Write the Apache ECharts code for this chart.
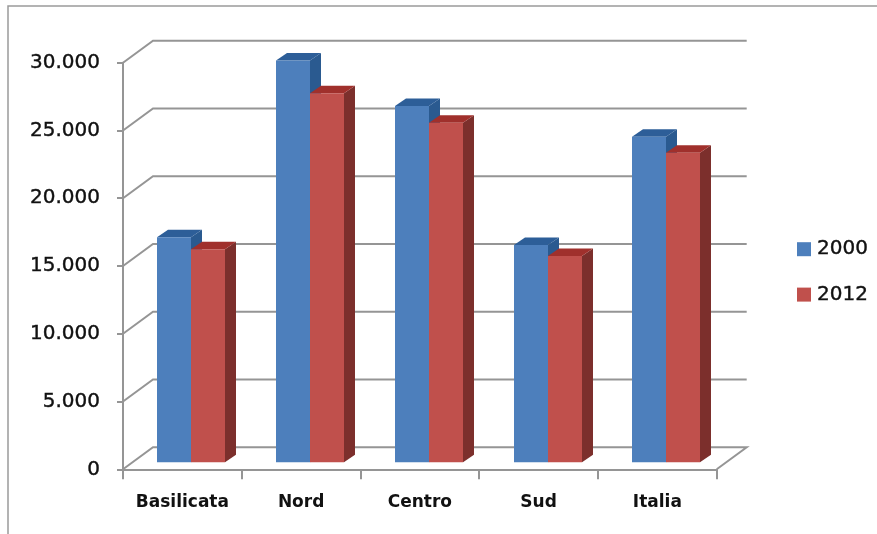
<!DOCTYPE html>
<html>
<head>
<meta charset="utf-8">
<style>html,body{margin:0;padding:0;background:#fff}#chart{width:877px;height:534px}</style>
<script src="https://cdn.jsdelivr.net/npm/echarts@6/dist/echarts.min.js"></script>
</head>
<body>
<div id="chart"></div>
<script>
const categories = ['Basilicata', 'Nord', 'Centro', 'Sud', 'Italia'];
const values2000 = [16600, 29640, 26290, 16030, 24020];
const values2012 = [15715, 27230, 25055, 15220, 22840];
const yTicks = [0, 5000, 10000, 15000, 20000, 25000, 30000];

const AXIS_GREY = '#959595';
const FONT = '"DejaVu Sans", sans-serif';

// Oblique projection used for the floor/wall and for the bar prisms
const WALL = { dx: 30, dy: -22 };
const BAR_PLANE = { dx: 9, dy: -7 };
const BAR_DEPTH = { dx: 11, dy: -7.5 };
const BAR_SHARE = 0.285;

const withDots = v => String(v).replace(/\B(?=(\d{3})+$)/g, '.');

function renderWall(params, api) {
  const box = params.coordSys;
  const y = api.coord([0, api.value(0)])[1];
  const x0 = box.x, x1 = box.x + box.width;
  const pts = [[x0, y], [x0 + WALL.dx, y + WALL.dy], [x1 + WALL.dx, y + WALL.dy]];
  if (api.value(0) === 0) pts.push([x1, y]);
  return {
    type: 'polyline', silent: true,
    shape: { points: pts },
    style: { stroke: AXIS_GREY, lineWidth: 2, fill: 'none' }
  };
}

function prismRenderer(side, front, shade, cap) {
  return function (params, api) {
    const band = api.size([1, 0])[0];
    const w = Math.round(band * BAR_SHARE);
    const top = api.coord([api.value(0), api.value(1)]);
    const base = api.coord([api.value(0), 0]);
    const xl = Math.round(top[0] + BAR_PLANE.dx) + (side < 0 ? -w : 0);
    const xr = xl + w;
    const yt = top[1] + BAR_PLANE.dy;
    const yb = base[1] + BAR_PLANE.dy;
    const d = BAR_DEPTH;
    return {
      type: 'group',
      children: [
        { type: 'polygon', silent: true,
          shape: { points: [[xr, yt], [xr + d.dx, yt + d.dy], [xr + d.dx, yb + d.dy], [xr, yb]] },
          style: { fill: shade } },
        { type: 'polygon', silent: true,
          shape: { points: [[xl, yt], [xl + d.dx, yt + d.dy], [xr + d.dx, yt + d.dy], [xr, yt]] },
          style: { fill: cap } },
        { type: 'rect', silent: true,
          shape: { x: xl, y: yt, width: w, height: yb - yt },
          style: { fill: front } }
      ]
    };
  };
}

const chart = echarts.init(document.getElementById('chart'), null, { renderer: 'canvas' });
chart.setOption({
  animation: false,
  backgroundColor: '#ffffff',
  grid: { left: 123, top: 62.7, width: 593.7, height: 406.6 },
  xAxis: {
    type: 'category',
    data: categories,
    boundaryGap: true,
    axisLine: { lineStyle: { color: AXIS_GREY, width: 2 } },
    axisTick: { show: true, length: 10, interval: 0, lineStyle: { color: AXIS_GREY, width: 2 } },
    axisLabel: { interval: 0, color: '#111', fontFamily: FONT, fontWeight: 'bold', fontSize: 17, margin: 25 }
  },
  yAxis: {
    type: 'value',
    min: 0, max: 30000, interval: 5000,
    splitLine: { show: false },
    axisLine: { show: true, lineStyle: { color: AXIS_GREY, width: 2 } },
    axisTick: { show: true, length: 6, lineStyle: { color: AXIS_GREY, width: 2 } },
    axisLabel: { color: '#111', fontFamily: FONT, fontSize: 20, margin: 23, padding: [3, 0, 0, 0],
      textBorderColor: '#111', textBorderWidth: 0.4, formatter: withDots }
  },
  legend: {
    orient: 'vertical',
    left: 797, top: 239, padding: 0,
    itemWidth: 14, itemHeight: 14, itemGap: 25,
    icon: 'rect',
    data: ['2000', '2012'],
    textStyle: { color: '#111', fontFamily: FONT, fontSize: 20, padding: [0, 0, 0, 1], textBorderColor: '#111', textBorderWidth: 0.4 }
  },
  graphic: [
    { type: 'polyline', silent: true, z: -1,
      shape: { points: [[8, 534], [8, 6], [877, 6]] },
      style: { stroke: '#9a9a9a', lineWidth: 1.5, fill: 'none' } }
  ],
  series: [
    { type: 'custom', name: 'wall', z: 1, renderItem: renderWall, clip: false,
      data: yTicks.map(v => [v]), encode: { y: 0 } },
    { type: 'custom', name: '2000', z: 2, clip: false,
      itemStyle: { color: '#4d7fbc' },
      renderItem: prismRenderer(-1, '#4d7fbc', '#2a5a90', '#2d5e98'),
      data: values2000.map((v, i) => [i, v]), encode: { x: 0, y: 1 } },
    { type: 'custom', name: '2012', z: 3, clip: false,
      itemStyle: { color: '#c0504c' },
      renderItem: prismRenderer(1, '#c0504c', '#7c2f2c', '#a0302c'),
      data: values2012.map((v, i) => [i, v]), encode: { x: 0, y: 1 } }
  ]
});
</script>
</body>
</html>
